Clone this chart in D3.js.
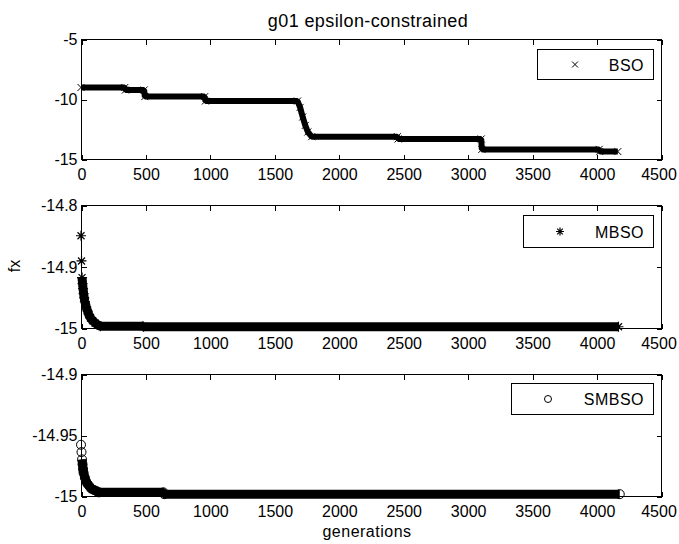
<html>
  <head>
    <title>g01 epsilon-constrained</title>
    <meta charset="utf-8" />
    <script src="https://cdnjs.cloudflare.com/ajax/libs/d3/7.6.1/d3.min.js"></script>
    <style>
      body { margin: 0; background: #fff; }
      svg { display: block; }
      text {
        font-family: "Liberation Sans", Arial, sans-serif;
        font-size: 16px;
        fill: #000;
      }
      text.title { font-size: 18px; letter-spacing: 0.4px; }
      text.lbl { letter-spacing: 0.5px; }
      .frame line, .frame rect { shape-rendering: crispEdges; }
    </style>
  </head>
  <body>
    <svg width="679" height="544"></svg>
  </body>

  <script>
    // x ticks shared by all panels
    var genTicks = [0, 500, 1000, 1500, 2000, 2500, 3000, 3500, 4000, 4500];

    // BSO (x markers) - step levels
    var bsoGen = [0, 340, 345, 490, 495, 960, 965, 1680, 1700, 1720, 1740, 1760, 1790, 2455, 2460, 3105, 3110, 4020, 4025, 4165];
    var bsoVal = [-9.04, -9.04, -9.25, -9.25, -9.8, -9.8, -10.17, -10.17, -10.7, -11.5, -12.2, -12.75, -13.14, -13.14, -13.33, -13.33, -14.2, -14.2, -14.38, -14.38];
    var bsoTicks = [-15, -10, -5];

    // MBSO (* markers)
    var mbsoGen = [0, 4, 8, 12, 16, 20, 25, 30, 40, 50, 60, 75, 90, 110, 130, 150, 480, 485, 4170];
    var mbsoVal = [-14.85, -14.891, -14.918, -14.928, -14.936, -14.944, -14.951, -14.957, -14.965, -14.972, -14.978, -14.984, -14.988, -14.992, -14.995, -14.997, -14.997, -14.998, -14.998];
    var mbsoTicks = [-15, -14.9, -14.8];

    // SMBSO (o markers)
    var smbsoGen = [0, 4, 8, 12, 16, 20, 30, 40, 50, 65, 80, 100, 120, 140, 640, 645, 4180];
    var smbsoVal = [-14.958, -14.964, -14.97, -14.974, -14.978, -14.981, -14.985, -14.988, -14.99, -14.992, -14.994, -14.995, -14.996, -14.997, -14.997, -14.9985, -14.9985];
    var smbsoTicks = [-15, -14.95, -14.9];

    const svg = d3.select("svg");
    const left = 81, right = 661;
    const xScale = d3.scaleLinear().domain([0, 4500]).range([left, right]);

    // bandFrom: first point where the markers pile up into a solid band
    const panels = [
      { name: "BSO", gen: bsoGen, val: bsoVal, ticks: bsoTicks, top: 39, bottom: 159,
        marker: "x", band: 6, bandFrom: 0, legend: [537, 49, 653, 79], mx: 575 },
      { name: "MBSO", gen: mbsoGen, val: mbsoVal, ticks: mbsoTicks, top: 205, bottom: 328,
        marker: "star", band: 9, bandFrom: 2, legend: [523, 215, 653, 247], mx: 560 },
      { name: "SMBSO", gen: smbsoGen, val: smbsoVal, ticks: smbsoTicks, top: 374, bottom: 496,
        marker: "circle", band: 9, bandFrom: 2, legend: [511, 383, 653, 414], mx: 548 },
    ];

    function drawMarker(g, type, x, y, s) {
      if (type === "x") {
        g.append("path")
          .attr("d", `M${x - s},${y - s}L${x + s},${y + s}M${x - s},${y + s}L${x + s},${y - s}`)
          .attr("stroke", "#000").attr("stroke-width", 1).attr("fill", "none");
      } else if (type === "star") {
        g.append("path")
          .attr("d", `M${x - s},${y}L${x + s},${y}M${x},${y - s}L${x},${y + s}` +
            `M${x - s * 0.7},${y - s * 0.7}L${x + s * 0.7},${y + s * 0.7}` +
            `M${x - s * 0.7},${y + s * 0.7}L${x + s * 0.7},${y - s * 0.7}`)
          .attr("stroke", "#000").attr("stroke-width", 1.2).attr("fill", "none");
      } else {
        g.append("circle").attr("cx", x).attr("cy", y).attr("r", s)
          .attr("stroke", "#000").attr("stroke-width", 1).attr("fill", "none");
      }
    }

    panels.forEach((p) => {
      const yScale = d3.scaleLinear().domain([p.ticks[0], p.ticks[2]]).range([p.bottom, p.top]);
      const g = svg.append("g");
      const frame = g.append("g").attr("class", "frame");

      // box
      frame.append("rect")
        .attr("x", left + 0.5).attr("y", p.top + 0.5)
        .attr("width", right - left).attr("height", p.bottom - p.top)
        .attr("fill", "#fff").attr("stroke", "#000").attr("stroke-width", 1);

      // ticks, pointing inwards on all four sides
      const xb = d3.axisBottom(xScale).tickValues(genTicks).tickSize(-5).tickPadding(9).tickFormat(d3.format("d"));
      const xt = d3.axisTop(xScale).tickValues(genTicks).tickSize(-5).tickFormat("");
      const yl = d3.axisLeft(yScale).tickValues(p.ticks).tickSize(-5).tickPadding(4).tickFormat((d) => String(d));
      const yr = d3.axisRight(yScale).tickValues(p.ticks).tickSize(-5).tickFormat("");
      [
        [xb, `translate(0.5,${p.bottom + 0.5})`],
        [xt, `translate(0.5,${p.top + 0.5})`],
        [yl, `translate(${left + 0.5},0.5)`],
        [yr, `translate(${right + 0.5},0.5)`],
      ].forEach(([ax, tr]) => {
        const a = frame.append("g").attr("transform", tr).call(ax);
        a.select(".domain").remove();
        a.selectAll("line").attr("stroke", "#000");
        a.selectAll("text").attr("font-size", null).attr("font-family", null).attr("fill", "#000");
      });
      // last x label sits a little left so it stays inside the window
      frame.selectAll(".tick text").filter((d) => d === 4500).attr("dx", -3);

      // data: dense overlapping markers appear as a thick band
      const pts = p.gen.map((gg, i) => [gg, p.val[i]]);
      g.append("path")
        .datum(pts.slice(p.bandFrom))
        .attr("d", d3.line().x((d) => xScale(d[0])).y((d) => yScale(d[1])))
        .attr("fill", "none").attr("stroke", "#000")
        .attr("stroke-width", p.band).attr("stroke-linejoin", "bevel");
      const size = p.marker === "circle" ? 4.5 : p.marker === "star" ? 5 : 3.5;
      pts.forEach((d) => drawMarker(g, p.marker, xScale(d[0]), yScale(d[1]), size));

      // legend
      const [lx0, ly0, lx1, ly1] = p.legend;
      frame.append("rect")
        .attr("x", lx0 + 0.5).attr("y", ly0 + 0.5)
        .attr("width", lx1 - lx0).attr("height", ly1 - ly0)
        .attr("fill", "#fff").attr("stroke", "#000");
      const lm = g.append("g");
      drawMarker(lm, p.marker, p.mx, (ly0 + ly1) / 2 + 0.5, p.marker === "circle" ? 3.5 : p.marker === "star" ? 4 : 3);
      g.append("text").attr("class", "lbl")
        .attr("x", 644).attr("y", (ly0 + ly1) / 2 + 1)
        .attr("dy", "0.35em").attr("text-anchor", "end")
        .text(p.name);
    });

    svg.append("text").attr("class", "title").attr("x", 368).attr("y", 27).attr("text-anchor", "middle")
      .text("g01 epsilon-constrained");
    svg.append("text").attr("class", "lbl").attr("x", 367).attr("y", 537).attr("text-anchor", "middle")
      .text("generations");
    svg.append("text").attr("transform", "translate(20,266) rotate(-90)")
      .attr("text-anchor", "middle").text("fx");
  </script>
</html>
